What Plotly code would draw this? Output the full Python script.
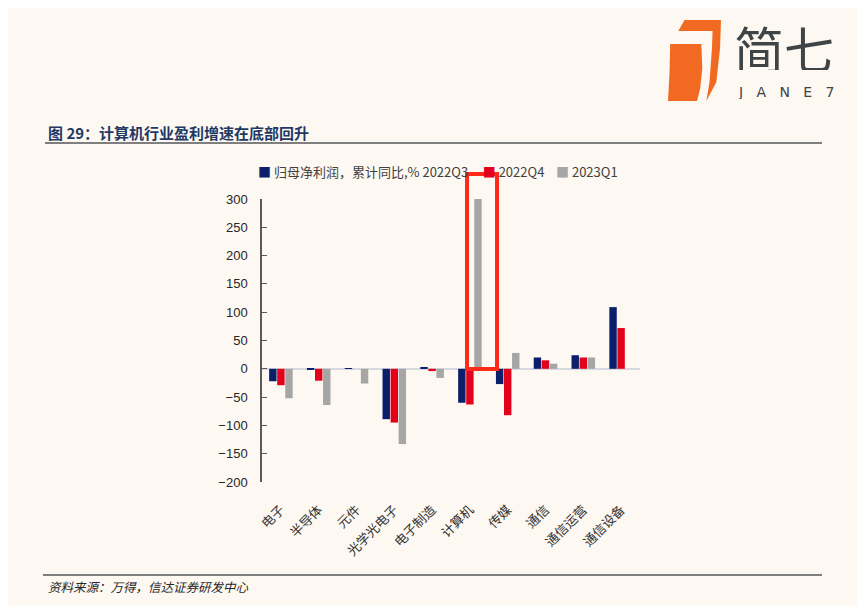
import plotly.graph_objects as go

# 行业分类
categories = ["电子", "半导体", "元件", "光学光电子", "电子制造", "计算机", "传媒", "通信", "通信运营", "通信设备"]

# 归母净利润，累计同比（%）
q3_2022 = [-22, -2, 1, -89, 2, -60, -27, 20, 24, 109]
q4_2022 = [-29, -21, 0, -95, -4, -63, -82, 15, 20, 72]
q1_2023 = [-52, -64, -26, -133, -16, 300, 28, 9, 20, 0]

names = ["归母净利润，累计同比,% 2022Q3", "2022Q4", "2023Q1"]
colors = ["#0b1f6b", "#e3001b", "#a6a6a6"]
y_ticks = [-200, -150, -100, -50, 0, 50, 100, 150, 200, 250, 300]

W, H = 865, 606
OFF = 8  # 页面 body 默认边距，截图里整体右下偏了 8px
L, T = 262 - OFF, 199 - OFF
R, B = W - (640 - OFF), H - (482 - OFF)
BG = "#fdf8f1"


def px(x):
    return (x - OFF - L) / (W - L - R)


def py(y):
    return (H - B - (y - OFF)) / (H - T - B)


fig = go.Figure()
for vals, name, c in zip([q3_2022, q4_2022, q1_2023], names, colors):
    fig.add_trace(go.Bar(x=categories, y=vals, name=name, marker_color=c,
                         marker_line_width=0, showlegend=False))

# 图例（手工拼出来，紧凑一点）
items = [f"<span style='color:{c}'>■</span> {n}" for n, c in zip(names, colors)]
legend_txt = items[0] + "     " + items[1] + "    " + items[2]

# logo 形状（相对坐标 -> 像素）
def logo_path(pts):
    out = []
    for zx, zy in pts:
        X = 668 + (zx - 35) / 170 * 53
        Y = 20 + (zy - 18) / 237 * 81
        out.append(f"{px(X):.4f},{py(Y):.4f}")
    return "M" + " L".join(out) + " Z"


hook = [(88, 18), (205, 18), (202, 100), (190, 200), (158, 255), (168, 200),
        (176, 100), (178, 50), (68, 50)]
block = [(42, 88), (142, 88), (145, 160), (138, 220), (128, 255), (35, 255), (40, 170)]

shapes = [
    dict(type="path", xref="paper", yref="paper", path=logo_path(hook),
         fillcolor="#f26a21", line_width=0),
    dict(type="path", xref="paper", yref="paper", path=logo_path(block),
         fillcolor="#f26a21", line_width=0),
    # 标题下划线 / 底部分隔线
    dict(type="line", xref="paper", yref="paper", x0=px(45), x1=px(822),
         y0=py(143), y1=py(143), line=dict(color="#7f7f7f", width=2)),
    dict(type="line", xref="paper", yref="paper", x0=px(43), x1=px(822),
         y0=py(575), y1=py(575), line=dict(color="#7f7f7f", width=2)),
    # 计算机 红框
    dict(type="rect", xref="paper", yref="paper", x0=px(467), x1=px(497),
         y0=py(369), y1=py(174), line=dict(color="#ff2a1a", width=4),
         fillcolor="rgba(0,0,0,0)"),
]

annotations = [
    dict(text=legend_txt, xref="paper", yref="paper", x=px(256), y=py(171),
         xanchor="left", yanchor="middle", showarrow=False,
         font=dict(size=13, color="#404040", family="Noto Sans CJK SC")),
    dict(text="<b>图 29：计算机行业盈利增速在底部回升</b>", xref="paper", yref="paper",
         x=px(46), y=py(132), xanchor="left", yanchor="middle", showarrow=False,
         font=dict(size=15, color="#1f3864", family="Noto Sans CJK SC")),
    dict(text="<i>资料来源：万得，信达证券研发中心</i>", xref="paper", yref="paper",
         x=px(46), y=py(586), xanchor="left", yanchor="middle", showarrow=False,
         font=dict(size=12.5, color="#262626", family="Noto Sans CJK SC")),
    dict(text="简七", xref="paper", yref="paper", x=px(784), y=py(47),
         xanchor="center", yanchor="middle", showarrow=False, height=46,
         font=dict(size=50, color="#3f4447", family="Noto Sans CJK SC")),
    dict(text="J   A   N   E   7", xref="paper", yref="paper", x=px(786), y=py(92),
         xanchor="center", yanchor="middle", showarrow=False, height=14,
         font=dict(size=14, color="#3f4447", family="DejaVu Sans")),
]

fig.update_layout(
    width=W, height=H,
    margin=dict(l=L, r=R, t=T, b=B),
    paper_bgcolor=BG, plot_bgcolor=BG,
    barmode="group", bargap=0.36, bargroupgap=0.08,
    shapes=shapes, annotations=annotations,
    font=dict(family="Liberation Sans", color="#333333"),
)
fig.update_xaxes(tickangle=-45, showgrid=False, showline=False,
                 ticks="outside", ticklen=14, tickcolor="rgba(0,0,0,0)",
                 tickfont=dict(size=13, family="Noto Sans CJK SC", color="#333333"))
fig.update_yaxes(range=[-200, 300], tickvals=y_ticks, showgrid=False,
                 showline=True, linecolor="#595959", linewidth=1.5,
                 ticks="inside", ticklen=5, tickcolor="#595959",
                 zeroline=True, zerolinecolor="#d6d8e2", zerolinewidth=1.5,
                 ticklabelstandoff=10,
                 tickfont=dict(size=13, family="Liberation Sans", color="#262626"))

fig.write_html("out.html")
